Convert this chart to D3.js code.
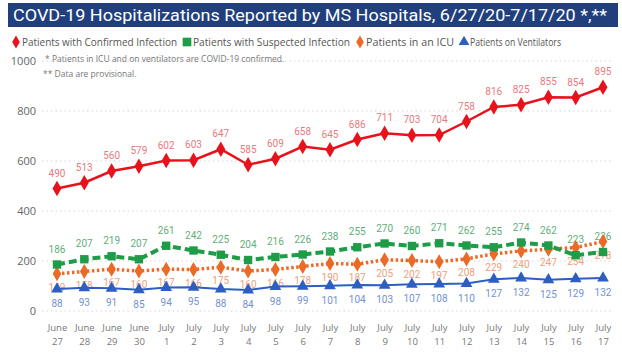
<!DOCTYPE html>
<html><head><meta charset="utf-8">
<script src="https://cdn.jsdelivr.net/npm/d3@7"></script>
<style>
body{margin:0;background:#fff;}
svg{display:block;}
</style></head>
<body><svg id="c" width="622" height="352"></svg>
<script>
const dates = ["June|27","June|28","June|29","June|30","July|1","July|2","July|3","July|4","July|5","July|6","July|7","July|8","July|9","July|10","July|11","July|12","July|13","July|14","July|15","July|16","July|17"];
const confirmed = [490,513,560,579,602,603,647,585,609,658,645,686,711,703,704,758,816,825,855,854,895];
const suspected = [186,207,219,207,261,242,225,204,216,226,238,255,270,260,271,262,255,274,262,223,236];
const icu = [149,158,167,160,167,166,175,160,166,178,190,187,205,202,197,208,229,240,247,254,278];
const ventilators = [88,93,91,85,94,95,88,84,98,99,101,104,103,107,108,110,127,132,125,129,132];
const yTicks = [0,200,400,600,800,1000];
const legendNames = ["Patients with Confirmed Infection","Patients with Suspected Infection","Patients in an ICU","Patients on Ventilators"];

const svg = d3.select("#c");
const font = "'Open Sans', 'Noto Sans', sans-serif";

// title bar
svg.append("rect").attr("x",8).attr("y",3).attr("width",610).attr("height",24).attr("fill","#213f7c");
svg.append("text").attr("x",13).attr("y",21).attr("fill","#fff")
  .attr("font-family","'Roboto', sans-serif").attr("font-size",16.5).attr("textLength",594).attr("lengthAdjust","spacingAndGlyphs")
  .text("COVD-19 Hospitalizations Reported by MS Hospitals, 6/27/20-7/17/20 *,**");

const x = d3.scalePoint().domain(d3.range(dates.length)).range([57,603]);
const y = d3.scaleLinear().domain([0,1000]).range([311,61]);

// grid
svg.append("g").selectAll("line").data(yTicks).join("line")
  .attr("x1",42).attr("x2",612).attr("y1",d=>y(d)).attr("y2",d=>y(d))
  .attr("stroke","#d5d5d5").attr("stroke-width",1).attr("stroke-dasharray","1.5,3");

// y axis
const yAxis = svg.append("g").attr("transform","translate(36,0)")
  .call(d3.axisLeft(y).tickValues(yTicks).tickFormat(d3.format("d")).tickSize(0).tickPadding(0));
yAxis.select(".domain").remove();
yAxis.selectAll("text").attr("font-family",font).attr("font-size",11).attr("fill","#666");

// x axis
const xAxis = svg.append("g").attr("transform","translate(0,322)")
  .call(d3.axisBottom(x).tickSize(0).tickFormat(""));
xAxis.select(".domain").remove();
xAxis.selectAll(".tick").each(function(d){
  const parts = dates[d].split("|");
  const t = d3.select(this).append("text").attr("fill","#777").attr("font-family",font).attr("font-size",9.5).attr("text-anchor","middle");
  t.append("tspan").attr("x",0).attr("y",9).text(parts[0]);
  t.append("tspan").attr("x",0).attr("y",23).text(parts[1]);
});

// notes
svg.append("text").attr("x",45).attr("y",62).attr("font-family",font).attr("font-size",8.5).attr("fill","#777").text("* Patients in ICU and on ventilators are COVID-19 confirmed.");
svg.append("text").attr("x",43).attr("y",77).attr("font-family",font).attr("font-size",8.5).attr("fill","#777").text("** Data are provisional.");

const series = [
  {data:confirmed, color:"#e8121c", label:"#e77a80", sym:d3.symbolDiamond, size:70, dash:null, w:2.5, ly:-12},
  {data:suspected, color:"#1f9c48", label:"#5fae7c", sym:d3.symbolSquare, size:70, dash:"8,4", w:4, ly:-12},
  {data:icu, color:"#ea6a28", label:"#eda07c", sym:d3.symbolDiamond, size:65, dash:"2.5,2.5", w:3.5, ly:17},
  {data:ventilators, color:"#2d5ec2", label:"#7491d0", sym:d3.symbolTriangle, size:60, dash:null, w:2, ly:18}
];

const line = d3.line().x((d,i)=>x(i)).y(d=>y(d));
[3,2,1,0].forEach(k=>{
  const s = series[k];
  svg.append("g").selectAll("text").data(s.data).join("text")
    .attr("x",(d,i)=>x(i)).attr("y",d=>y(d)+s.ly)
    .attr("text-anchor","middle").attr("font-family","'Roboto', sans-serif").attr("font-size",10)
    .attr("fill",s.label).text(d=>d);
});
[3,2,1,0].forEach(k=>{
  const s = series[k];
  const g = svg.append("g");
  g.append("path").attr("d",line(s.data)).attr("fill","none").attr("stroke",s.color)
    .attr("stroke-width",s.w).attr("stroke-dasharray",s.dash);
  g.selectAll("path.m").data(s.data).join("path").attr("class","m")
    .attr("transform",(d,i)=>`translate(${x(i)},${y(d)})`)
    .attr("d",d3.symbol().type(s.sym).size(s.size)).attr("fill",s.color);
});

// legend
const legX = [16,187,360,464];
const legLen = [155,157,88,91];
const lg = svg.append("g");
series.forEach((s,i)=>{
  lg.append("path").attr("transform",`translate(${legX[i]},42)`).attr("d",d3.symbol().type(s.sym).size(s.sym===d3.symbolSquare?75:50)).attr("fill",s.color);
  lg.append("text").attr("x",legX[i]+6).attr("y",46).attr("font-family",font).attr("font-size",10).attr("fill","#555")
    .attr("textLength",legLen[i]).attr("lengthAdjust","spacingAndGlyphs").text(legendNames[i]);
});
</script></body></html>
